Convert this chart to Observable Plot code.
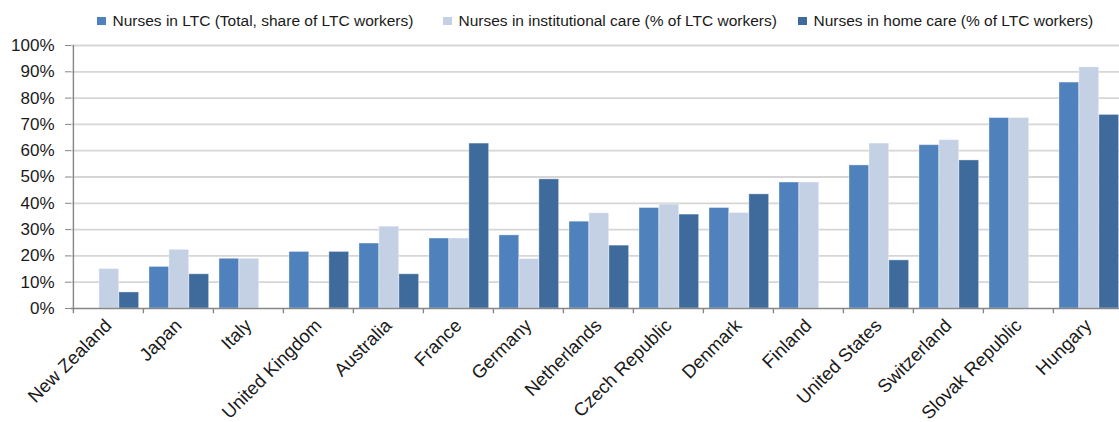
<!DOCTYPE html>
<html>
<head>
<meta charset="utf-8">
<script src="https://cdn.jsdelivr.net/npm/d3@7"></script>
<script src="https://cdn.jsdelivr.net/npm/@observablehq/plot@0.6"></script>
<style>
  html, body { margin: 0; padding: 0; background: #fff; overflow: hidden; }
  body { width: 1119px; height: 422px; font-family: "Liberation Sans", Arial, sans-serif; }
  #legend { position: relative; height: 36px; }
  .item { position: absolute; top: 12px; display: flex; align-items: center; font-size: 15.5px; color: #1a1a1a; white-space: nowrap; }
  .sw { width: 8.5px; height: 8.5px; margin-right: 7px; }
</style>
</head>
<body>
<div id="legend"></div>
<div id="chart"></div>
<script>
const countries = ["New Zealand", "Japan", "Italy", "United Kingdom", "Australia", "France", "Germany", "Netherlands", "Czech Republic", "Denmark", "Finland", "United States", "Switzerland", "Slovak Republic", "Hungary"];
const seriesNames = ["Nurses in LTC (Total, share of LTC workers)", "Nurses in institutional care (% of LTC workers)", "Nurses in home care (% of LTC workers)"];
const total         = [null, 15.8, 18.9, 21.5, 24.7, 26.6, 27.8, 33.0, 38.2, 38.2, 47.9, 54.4, 62.1, 72.4, 85.9];
const institutional = [15.0, 22.3, 18.9, null, 31.1, 26.6, 18.8, 36.2, 39.5, 36.3, 47.9, 62.7, 64.0, 72.4, 91.7];
const homeCare      = [6.1, 13.0, null, 21.5, 13.0, 62.7, 49.1, 23.9, 35.7, 43.4, null, 18.3, 56.3, null, 73.6];
const yTicks = [0, 10, 20, 30, 40, 50, 60, 70, 80, 90, 100];
const colors = ["#4f81bd", "#c4d0e3", "#3f6a9c"];

const seriesValues = [total, institutional, homeCare];
const rows = [];
seriesValues.forEach((vals, k) => vals.forEach((v, i) => {
  if (v != null) rows.push({country: countries[i], series: seriesNames[k], k, value: v});
}));

// legend
const legendPos = [97, 443, 798];
const legend = document.getElementById("legend");
seriesNames.forEach((s, k) => {
  const el = document.createElement("div");
  el.className = "item";
  el.style.left = legendPos[k] + "px";
  el.innerHTML = `<span class="sw" style="background:${colors[k]}"></span><span>${s}</span>`;
  legend.appendChild(el);
});

const width = 1119, height = 386;
const xLeft = 71, xRight = 1124;
const bw = (xRight - xLeft) / countries.length;
const barW = bw * 0.284;
const off = (bw - 3 * barW) / 2 + 0.8;

const barMarks = [0, 1, 2].map(k => Plot.barY(rows.filter(r => r.k === k), {
  x: "country", y: "value",
  fill: colors[k],
  stroke: "#ffffff", strokeOpacity: 0.35, strokeWidth: 1,
  insetLeft: off + k * barW,
  insetRight: bw - off - (k + 1) * barW
}));

const chart = Plot.plot({
  width, height,
  marginLeft: xLeft, marginRight: 0, marginTop: 9, marginBottom: 114,
  style: {fontFamily: "'Liberation Sans', Arial, sans-serif", fontSize: "17px", color: "#1a1a1a", background: "#fff"},
  x: {domain: countries, range: [xLeft, xRight], padding: 0, label: null},
  y: {domain: [0, 100], label: null},
  marks: [
    Plot.ruleY(yTicks.filter(d => d > 0), {stroke: "#d6d6d6", strokeWidth: 1.8}),
    ...barMarks,
    Plot.ruleY([0], {stroke: "#868686", strokeWidth: 1.6}),
    Plot.ruleX(countries, {x: d => d, dx: -bw / 2, y1: -2, y2: (d, i) => i === 0 ? 100 : 0, stroke: "#868686", strokeWidth: 1.4}),
    Plot.axisY({ticks: yTicks, tickFormat: d => d + "%", tickSize: 6, tickPadding: 11, stroke: "#868686", fontSize: 17, label: null}),
    Plot.axisX({tickSize: 0, tickRotate: -45, tickPadding: 14, fontSize: 18.5, label: null})
  ]
});
document.getElementById("chart").appendChild(chart);
</script>
</body>
</html>
